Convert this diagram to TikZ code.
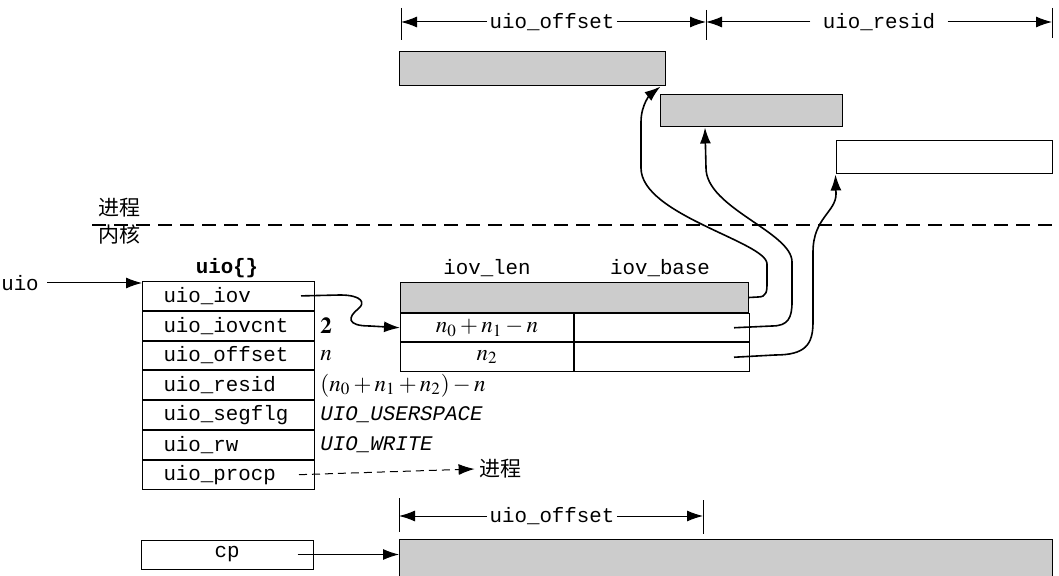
\documentclass[tikz,border=0pt]{standalone}
\usepackage{mathptmx}
\usepackage[no-math]{fontspec}
\setmonofont{Liberation Mono}
\newfontfamily\cjk{Noto Sans CJK SC}
\usetikzlibrary{positioning,arrows.meta}

\newcommand{\tfont}{\fontsize{10.4}{12}\selectfont\ttfamily}

\begin{document}
\begin{tikzpicture}[x=0.5pt, y=-0.5pt,
    fld/.style={draw, line width=0.5pt, minimum height=14.4pt, text width=65pt,
                inner xsep=10.5pt, inner ysep=0pt, align=left, font=\tfont},
    cell/.style={draw, line width=0.5pt, minimum height=14.25pt, inner sep=0pt,
                 font=\fontsize{11.5}{13}\selectfont},
    buf/.style={draw, line width=0.5pt, fill=black!20, inner sep=0pt},
    wbuf/.style={draw, line width=0.5pt, inner sep=0pt},
    val/.style={inner xsep=2.5pt, font=\fontsize{11.5}{13}\selectfont},
    lbl/.style={font=\tfont, inner sep=1pt},
    cn/.style={font=\fontsize{10.5}{12}\selectfont\cjk, inner sep=2pt},
    ptr/.style={-{Latex[length=8pt,width=5.5pt]}, line width=0.8pt},
    thin/.style={-{Latex[length=8pt,width=5.5pt]}, line width=0.5pt},
    tick/.style={line width=0.5pt}
]
\useasboundingbox (0,0) rectangle (1059,576);

% --- process buffers ---
\node[buf, minimum width=133pt, minimum height=17pt] (buf1) at (532,69) {};
\node[buf, minimum width=91pt, minimum height=16pt] (buf2) at (751,111) {};
\node[wbuf, minimum width=108pt, minimum height=16.5pt] (buf3) at (944,157.5) {};

% --- top dimensions ---
\coordinate (d0) at (401,22);
\coordinate (d1) at (706,22);
\coordinate (d2) at (1052,22);
\draw[tick] ([yshift=7pt]d0) -- ([yshift=-9pt]d0);
\draw[tick] ([yshift=6pt]d1) -- ([yshift=-9pt]d1);
\draw[tick] ([yshift=7pt]d2) -- ([yshift=-8pt]d2);
\node[lbl] (doff) at (552,22) {uio\_offset};
\node[lbl, inner xsep=6pt] (dres) at (879,22) {uio\_resid};
\draw[thin] (doff) -- (d0);
\draw[thin] (doff) -- (d1);
\draw[thin] (dres) -- (d1);
\draw[thin] (dres) -- (d2);

% --- process / kernel boundary ---
\node[cn] (user) at (119,208) {进程};
\node[cn] (kern) at (119,235) {内核};
\draw[line width=0.6pt, dash pattern=on 7pt off 4pt] (92,225) -- (1055,225);

% --- uio{} structure ---
\node[font=\tfont\bfseries] (title) at (227,268) {uio\{\}};
\node[fld, anchor=north west] (iov) at (142,281) {uio\_iov};
\node[fld, below=0pt of iov] (iovcnt) {uio\_iovcnt};
\node[fld, below=0pt of iovcnt] (offset) {uio\_offset};
\node[fld, below=0pt of offset] (resid) {uio\_resid};
\node[fld, below=0pt of resid] (segflg) {uio\_segflg};
\node[fld, below=0pt of segflg] (rw) {uio\_rw};
\node[fld, below=0pt of rw] (procp) {uio\_procp};

\node[lbl] (uio) at (20,283) {uio};
\draw[thin] ([xshift=3pt]uio.east) -- (uio.east -| iov.west);

% --- field values ---
\node[val, right=0pt of iovcnt] {$\mathbf{2}$};
\node[val, right=0pt of offset] {$n$};
\node[val, right=0pt of resid] {$(n_0+n_1+n_2)-n$};
\node[val, right=0pt of segflg, font=\tfont\itshape] {UIO\_USERSPACE};
\node[val, right=0pt of rw, font=\tfont\itshape] {UIO\_WRITE};
\node[cn] (procn) at (500,469) {进程};
\draw[thin, dash pattern=on 4pt off 2.5pt] ([xshift=-8pt]procp.east) -- (procn.west);

% --- iovec array ---
\node[lbl] at (487,268) {iov\_len};
\node[lbl] at (660,268) {iov\_base};
\node[buf, minimum width=174pt, minimum height=15pt, anchor=north west] (ihead) at (400,282) {};
\node[cell, minimum width=86.5pt, anchor=north west] (len1) at (ihead.south west) {$n_0+n_1-n$};
\node[cell, minimum width=87.5pt, right=0pt of len1] (base1) {};
\node[cell, minimum width=86.5pt, below=0pt of len1] (len2) {$n_2$};
\node[cell, minimum width=87.5pt, below=0pt of base1] (base2) {};

\draw[ptr] ([xshift=-7pt]iov.east) -- (340,295)
    .. controls (362,295) and (366,303) .. (358,309)
    .. controls (348,317) and (346,326) .. (370,326) -- (len1.west);

% --- pointers into the process ---
\draw[ptr] (ihead.east) -- (758,297) .. controls (767,297) and (767,291) .. (767,282)
    -- (767,264) .. controls (767,242) and (641,215) .. (641,168)
    -- (641,122) .. controls (641,104) and (651,94) .. ([xshift=-2.5pt]buf1.south east);
\draw[ptr] ([xshift=-8pt]base1.east) -- (772,326) .. controls (788,326) and (792,318) .. (792,302)
    -- (792,262) .. controls (792,232) and (706,208) .. (706,168)
    -- ([xshift=-23pt]buf2.south);
\draw[ptr] ([xshift=-8pt]base2.east) -- (775,355) .. controls (805,355) and (813,345) .. (813,322)
    -- (813,252) .. controls (813,218) and (836,212) .. (836,194)
    -- (buf3.south west);

% --- kernel copy ---
\node[fld, text width=86pt, inner xsep=0pt, align=center, minimum height=14.5pt] (cp) at (227,554.5) {cp};
\node[buf, minimum width=326.5pt, minimum height=20pt, anchor=north west] (bufb) at (399,539) {};
\draw[thin] ([xshift=-8pt]cp.east) -- (cp.east -| bufb.west);

\coordinate (b0) at (399,516);
\coordinate (b1) at (703,516);
\draw[tick] ([yshift=9pt]b0) -- ([yshift=-8pt]b0);
\draw[tick] ([yshift=8pt]b1) -- ([yshift=-9pt]b1);
\node[lbl] (boff) at (552,516) {uio\_offset};
\draw[thin] (boff) -- (b0);
\draw[thin] (boff) -- (b1);

\end{tikzpicture}
\end{document}
